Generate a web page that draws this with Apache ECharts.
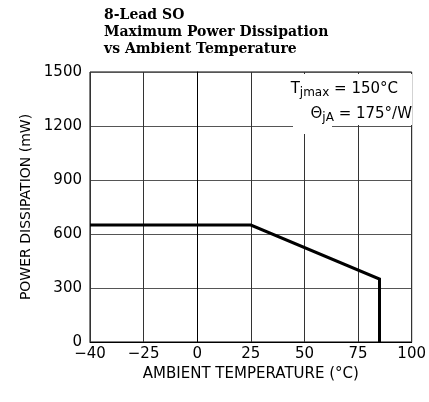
<!DOCTYPE html>
<html>
<head>
<meta charset="utf-8">
<script src="https://cdn.jsdelivr.net/npm/echarts@6/dist/echarts.min.js"></script>
<style>html,body{margin:0;padding:0;background:#fff;}#c{width:429px;height:402px;}</style>
</head>
<body>
<div id="c"></div>
<script>
// Data
const tempLabels = ['\u221240', '\u221225', '0', '25', '50', '75', '100'];
const tempC = [-40, 25, 85, 85];
const powerMW = [650, 650, 350, 0];
const yMin = 0, yMax = 1500, yStep = 300;

// The axis draws -40 at the spot one 25-degree step left of -25
function toAxis(t) { return t >= -25 ? t : -25 + (t + 25) * 25 / 15; }

const seriesData = tempC.map((t, i) => [toAxis(t), powerMW[i]]);

const FONT = 'DejaVu Sans';
const chart = echarts.init(document.getElementById('c'), null, {renderer: 'canvas'});
chart.setOption({
  animation: false,
  backgroundColor: '#fff',
  title: {
    text: '8-Lead SO\nMaximum Power Dissipation\nvs Ambient Temperature',
    left: 99, top: 2,
    textStyle: {fontFamily: 'DejaVu Serif', fontWeight: 'bold', fontSize: 14, lineHeight: 17, color: '#000'}
  },
  grid: {left: 90, right: 15, top: 72, bottom: 60, show: true, borderColor: '#000', borderWidth: 1, containLabel: false},
  xAxis: {
    type: 'value', min: -50, max: 100, interval: 25,
    name: 'AMBIENT TEMPERATURE (\u00B0C)', nameLocation: 'middle', nameGap: 14,
    nameTextStyle: {fontFamily: FONT, fontSize: 15, color: '#000'},
    axisLine: {show: true, lineStyle: {color: '#000', width: 1}},
    axisTick: {show: false},
    axisLabel: {fontFamily: FONT, fontSize: 15, color: '#000', margin: 5,
      formatter: v => tempLabels[Math.round((v + 50) / 25)]},
    splitLine: {show: true, lineStyle: {color: '#333', width: 1}}
  },
  yAxis: {
    type: 'value', min: yMin, max: yMax, interval: yStep,
    name: 'POWER DISSIPATION (mW)', nameLocation: 'middle', nameGap: 57,
    nameTextStyle: {fontFamily: FONT, fontSize: 14, color: '#000'},
    axisLine: {show: true, lineStyle: {color: '#000', width: 1}},
    axisTick: {show: false},
    axisLabel: {fontFamily: FONT, fontSize: 15, color: '#000', margin: 8, formatter: v => String(v)},
    splitLine: {show: true, lineStyle: {color: '#555', width: 1}}
  },
  series: [{
    type: 'line', data: seriesData, showSymbol: false, symbol: 'none',
    lineStyle: {color: '#000', width: 3, join: 'miter'}, z: 5
  }],
  graphic: [
    {type: 'rect', z: 50, shape: {x: 298, y: 74, width: 114, height: 51}, style: {fill: '#fff'}},
    {type: 'rect', z: 50, shape: {x: 293, y: 118, width: 39, height: 16}, style: {fill: '#fff'}},
    {type: 'text', z: 60, style: {
      x: 398, y: 82, align: 'right', verticalAlign: 'top',
      text: '{m|T}{s|jmax}{m| = 150\u00B0C}',
      rich: {
        m: {fontFamily: FONT, fontSize: 15, lineHeight: 18, verticalAlign: 'top', fill: '#000'},
        s: {fontFamily: FONT, fontSize: 12, lineHeight: 14, padding: [5, 0, 0, 0], verticalAlign: 'top', fill: '#000'}
      }
    }},
    {type: 'text', z: 60, style: {
      x: 412, y: 107, align: 'right', verticalAlign: 'top',
      text: '{m|\u0398}{s|jA}{m| = 175\u00B0/W}',
      rich: {
        m: {fontFamily: FONT, fontSize: 15, lineHeight: 18, verticalAlign: 'top', fill: '#000'},
        s: {fontFamily: FONT, fontSize: 12, lineHeight: 14, padding: [5, 0, 0, 0], verticalAlign: 'top', fill: '#000'}
      }
    }}
  ]
});
</script>
</body>
</html>
